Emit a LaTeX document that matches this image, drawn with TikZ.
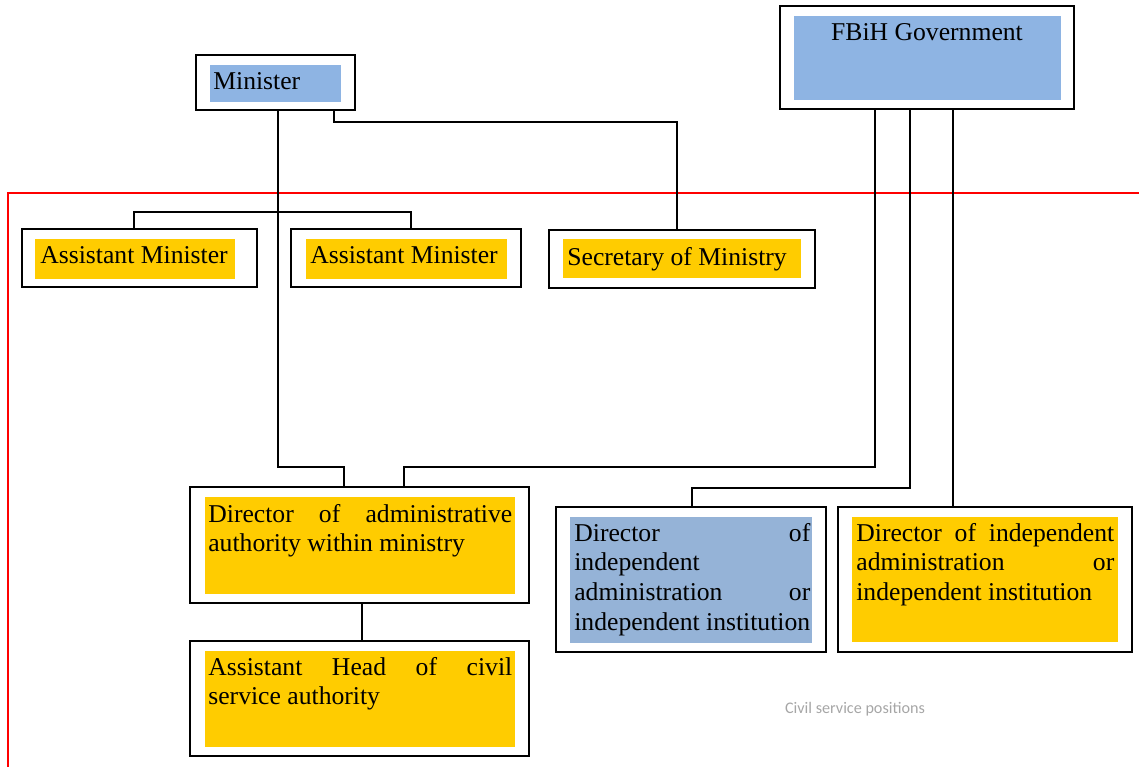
\documentclass[tikz,border=0pt]{standalone}
\usepackage{fontspec}
\setmainfont{Liberation Serif}
\newfontfamily\capfont{Carlito}
\usepackage{xcolor}
\usepackage{tikz}
\usetikzlibrary{positioning,calc,fit}

\definecolor{govblue}{HTML}{8EB4E3}
\definecolor{dirblue}{HTML}{95B3D7}
\definecolor{posyellow}{HTML}{FFCC00}
\definecolor{capgray}{HTML}{A6A6A6}

\begin{document}
\begin{tikzpicture}[
	x=0.02cm, y=-0.02cm,
	% khung ngoai (vien den)
	outer/.style={draw=black, line width=1pt, fill=white, inner sep=0pt},
	% nen mau ben trong
	bluein/.style={fill=govblue, inner sep=0pt},
	greyblue/.style={fill=dirblue, inner sep=0pt},
	yellowin/.style={fill=posyellow, inner sep=0pt},
	% chu trong o
	txt/.style={inner sep=0pt, anchor=base west, align=justify,
		font=\fontsize{14.6}{16.9}\selectfont},
	% duong noi
	link/.style={draw=black, line width=0.7pt}
	]
	
	\useasboundingbox (0,0) rectangle (1139,767);
	
	% --- vung cong chuc (duong do) ---
	\draw[red, line width=0.8pt] (1139,193) -- (8,193) -- (8,767);
	
	% --- Minister ---
	\node[outer, fit={(196,55) (355,110)}] (minister) {};
	\node[bluein, fit={(210,65) (341,102)}] (ministerin) {};
	\node[txt] (ministertxt) at (213,90) {Minister};
	
	% --- FBiH Government ---
	\node[outer, fit={(780,6) (1074,109)}] (gov) {};
	\node[bluein, fit={(794,16) (1061,100)}] (govin) {};
	\node[txt, anchor=base] (govtxt) at (927,41) {FBiH Government};
	
	% --- hang 1: Assistant Minister, Secretary ---
	\node[outer, fit={(22,229) (257,287)}] (asst1) {};
	\node[yellowin, fit={(35,239) (235,279)}] (asst1in) {};
	\node[txt] (asst1txt) at (40,263) {Assistant Minister};
	
	\node[outer, fit={(291,229) (521,287)}] (asst2) {};
	\node[yellowin, fit={(306,239) (507,279)}] (asst2in) {};
	\node[txt] (asst2txt) at (310,263) {Assistant Minister};
	
	\node[outer, fit={(549,230) (815,288)}] (secretary) {};
	\node[yellowin, fit={(563,239) (801,278)}] (secretaryin) {};
	\node[txt] (secretarytxt) at (567,265) {Secretary of Ministry};
	
	% --- hang 2: cac Director ---
	\node[outer, fit={(190,487) (529,603)}] (diradmin) {};
	\node[yellowin, fit={(205,497) (515,594)}] (diradminin) {};
	\node[txt, text width=6.08cm] (diradmintxt) at (208,522)
		{Director\hfill of\hfill administrative\\ authority within ministry};
	
	\node[outer, fit={(556,507) (826,652)}] (dirind) {};
	\node[greyblue, fit={(570,517) (812,643)}] (dirindin) {};
	\node[txt, text width=4.72cm] (dirindtxt) at (574,541)
		{Director\hfill of\\ independent\\ administration\hfill or\\ independent institution};
	
	\node[outer, fit={(838,507) (1132,652)}] (dirinst) {};
	\node[yellowin, fit={(852,517) (1118,642)}] (dirinstin) {};
	\node[txt, text width=5.16cm] (dirinsttxt) at (856,541)
		{Director\hfill of\hfill independent\\ administration\hfill or\\ independent institution};
	
	% --- hang 3 ---
	\node[outer, fit={(190,641) (529,756)}] (asthead) {};
	\node[yellowin, fit={(205,651) (515,747)}] (astheadin) {};
	\node[txt, text width=6.08cm] (astheadtxt) at (208,675)
		{Assistant\hfill Head\hfill of\hfill civil\\ service authority};
	
	\node[font=\capfont\fontsize{9.2}{11}\selectfont, text=capgray, anchor=base] (caption) at (855,713) {Civil service positions};
	
	% --- duong noi ---
	\draw[link] (minister.south -| 278,0) -- (278,467) -| (diradmin.north -| 344,0);
	\draw[link] (minister.south -| 334,0) -- (334,122) -| (secretary.north -| 677,0);
	\draw[link] (asst1.north -| 134,0) -- (134,212) -| (asst2.north -| 411,0);
	\draw[link] (gov.south -| 875,0) -- (875,467) -| (diradmin.north -| 404,0);
	\draw[link] (gov.south -| 910,0) -- (910,488) -| (dirind.north -| 692,0);
	\draw[link] (gov.south -| 953,0) -- (dirinst.north -| 953,0);
	\draw[link] (diradmin.south -| 362,0) -- (asthead.north -| 362,0);
	
\end{tikzpicture}
\end{document}
